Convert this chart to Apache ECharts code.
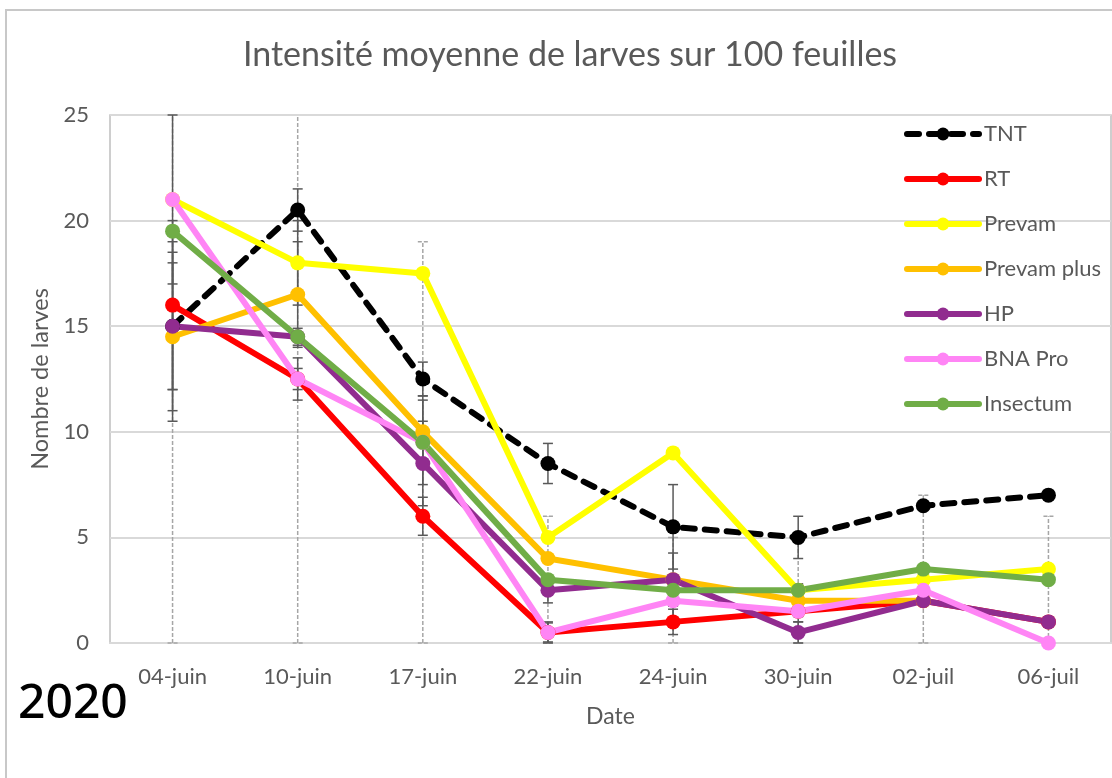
<!DOCTYPE html>
<html>
<head>
<meta charset="utf-8">
<title>Intensité moyenne de larves</title>
<script src="https://cdn.jsdelivr.net/npm/echarts@6/dist/echarts.min.js"></script>
<style>
  html, body { margin: 0; padding: 0; background: #fff; }
  #chart { width: 1112px; height: 778px; }
</style>
</head>
<body>
<div id="chart"></div>
<script>
// categories (dates) and y ticks
const dates = ['04-juin', '10-juin', '17-juin', '22-juin', '24-juin', '30-juin', '02-juil', '06-juil'];
const yTicks = [0, 5, 10, 15, 20, 25];

// mean values per treatment
const tnt        = [15, 20.5, 12.5, 8.5, 5.5, 5, 6.5, 7];
const rt         = [16, 12.5, 6, 0.5, 1, 1.5, 2, 1];
const prevam     = [21, 18, 17.5, 5, 9, 2.5, 3, 3.5];
const prevamPlus = [14.5, 16.5, 10, 4, 3, 2, 2, null];
const hp         = [15, 14.5, 8.5, 2.5, 3, 0.5, 2, 1];
const bnaPro     = [21, 12.5, 9.5, 0.5, 2, 1.5, 2.5, 0];
const insectum   = [19.5, 14.5, 9.5, 3, 2.5, 2.5, 3.5, 3];

// error bar half-widths (read from the caps)
const tntErr        = [3, 1, 0.8, 0.95, 2, 1, 0, 0];
const rtErr         = [4, 0.5, 0.9, 0.5, 0.6, 0.5, 0, 0];
const prevamErr     = [0, 2, 0, 0, 0, 0.3, 0, 0];
const prevamPlusErr = [4, 2.5, 1.7, 0, 0, 0.75, 0, 0];
const hpErr         = [4, 0.4, 2, 0.6, 1.26, 0.5, 0, 0];
const bnaProErr     = [4, 1, 2, 0.45, 1.2, 0, 0, 0];
const insectumErr   = [19.5, 14.5, 9.5, 3, 2.5, 2.5, 3.5, 3];

const names  = ['TNT', 'RT', 'Prevam', 'Prevam plus', 'HP', 'BNA Pro', 'Insectum'];
const colors = ['#000000', '#FF0000', '#FFFF00', '#FFC000', '#912C8F', '#FF85F5', '#70AD47'];
const values = [tnt, rt, prevam, prevamPlus, hp, bnaPro, insectum];
const errs   = [tntErr, rtErr, prevamErr, prevamPlusErr, hpErr, bnaProErr, insectumErr];

const yMax = 25;
const solidBars = [];
const dashedBars = [];
values.forEach((vals, s) => {
  vals.forEach((v, i) => {
    const e = errs[s][i];
    if (v == null || !e) return;
    const item = [i, Math.max(0, v - e), Math.min(yMax, v + e), v - e >= 0 ? 1 : 0, v + e <= yMax ? 1 : 0];
    (names[s] === 'Insectum' ? dashedBars : solidBars).push(item);
  });
});

function errorBar(color, dash) {
  return function (params, api) {
    const x = api.value(0);
    const lo = api.coord([x, api.value(1)]);
    const hi = api.coord([x, api.value(2)]);
    const w = 5;
    const style = { stroke: color, lineWidth: 1.5, lineDash: dash };
    const kids = [{ type: 'line', shape: { x1: lo[0], y1: lo[1], x2: hi[0], y2: hi[1] }, style: style }];
    if (api.value(4)) kids.push({ type: 'line', shape: { x1: hi[0] - w, y1: hi[1], x2: hi[0] + w, y2: hi[1] }, style: style });
    if (api.value(3)) kids.push({ type: 'line', shape: { x1: lo[0] - w, y1: lo[1], x2: lo[0] + w, y2: lo[1] }, style: style });
    return { type: 'group', children: kids };
  };
}

const chart = echarts.init(document.getElementById('chart'));

const lineSeries = names.map((n, s) => ({
  name: n,
  type: 'line',
  data: values[s],
  symbol: 'circle',
  symbolSize: 15,
  z: 3,
  itemStyle: { color: colors[s] },
  lineStyle: {
    color: colors[s],
    width: 6,
    type: n === 'TNT' ? [12, 10] : 'solid',
    cap: 'round'
  }
}));

chart.setOption({
  animation: false,
  backgroundColor: '#ffffff',
  textStyle: { fontFamily: 'Lato' },
  title: {
    text: 'Intensité moyenne de larves sur 100 feuilles',
    left: 565,
    top: 33,
    textAlign: 'center',
    textStyle: { fontFamily: 'Lato', fontSize: 34, fontWeight: 'normal', color: '#595959' }
  },
  graphic: [
    {
      type: 'rect',
      shape: { x: 6, y: 10, width: 1130, height: 800 },
      style: { fill: 'none', stroke: '#c8c8c8', lineWidth: 2 },
      silent: true
    },
    {
      type: 'text',
      left: 18,
      top: 680,
      style: { text: '2020', fontFamily: 'Noto Sans', fontSize: 48, fontWeight: 500, fill: '#000000' }
    }
  ],
  legend: {
    orient: 'vertical',
    left: 899,
    top: 118,
    itemWidth: 72,
    itemHeight: 16,
    itemGap: 23,
    data: names,
    lineStyle: { width: 6 },
    textStyle: { fontFamily: 'Lato', fontSize: 22, lineHeight: 22, color: '#595959' }
  },
  grid: {
    left: 110,
    right: 1,
    top: 115,
    bottom: 135,
    show: true,
    borderColor: '#bfbfbf',
    borderWidth: 1.5
  },
  xAxis: {
    type: 'category',
    data: dates,
    boundaryGap: true,
    name: 'Date',
    nameLocation: 'middle',
    nameGap: 62,
    nameTextStyle: { fontFamily: 'Lato', fontSize: 23, color: '#595959' },
    axisLine: { lineStyle: { color: '#d9d9d9', width: 2 } },
    axisTick: { show: false },
    axisLabel: { margin: 23, fontFamily: 'Lato', fontSize: 22, color: '#595959' }
  },
  yAxis: {
    type: 'value',
    min: yTicks[0],
    max: yTicks[yTicks.length - 1],
    interval: 5,
    name: 'Nombre de larves',
    nameLocation: 'middle',
    nameGap: 56,
    nameTextStyle: { fontFamily: 'Lato', fontSize: 23.5, color: '#595959' },
    axisLine: { show: false },
    axisTick: { show: false },
    axisLabel: { margin: 21, fontFamily: 'Lato', fontSize: 22, color: '#595959' },
    splitLine: { lineStyle: { color: '#d9d9d9', width: 2 } }
  },
  series: [
    {
      type: 'custom',
      z: 1,
      silent: true,
      renderItem: errorBar('#a6a6a6', [4, 2]),
      data: dashedBars,
      encode: { x: 0, y: [1, 2] }
    },
    {
      type: 'custom',
      z: 2,
      silent: true,
      renderItem: errorBar('#595959', null),
      data: solidBars,
      encode: { x: 0, y: [1, 2] }
    }
  ].concat(lineSeries)
});
</script>
</body>
</html>
